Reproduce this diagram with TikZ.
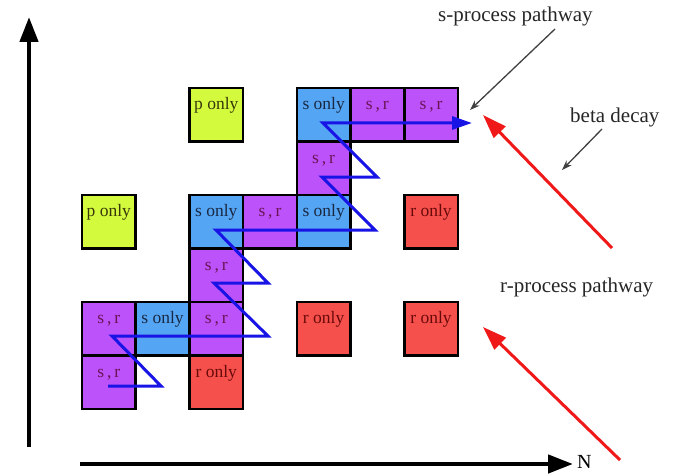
\documentclass[tikz,border=0pt]{standalone}
\usepackage{fontspec}
\setmainfont{Liberation Serif}
\usetikzlibrary{arrows.meta}
\definecolor{cpurple}{RGB}{188,82,250}
\definecolor{cblue}{RGB}{85,165,245}
\definecolor{cyellow}{RGB}{212,250,62}
\definecolor{cred}{RGB}{245,80,75}
\definecolor{tpurple}{RGB}{105,20,85}
\definecolor{tblue}{RGB}{25,40,65}
\definecolor{tyellow}{RGB}{55,55,10}
\definecolor{tred}{RGB}{105,10,10}
\definecolor{zblue}{RGB}{25,20,230}
\definecolor{rred}{RGB}{240,25,25}
\tikzset{
  cellbox/.style={draw=black, line width=2.6pt, minimum width=53.7pt, minimum height=53.5pt, inner sep=0pt, anchor=center},
  celltxt/.style={font=\fontsize{17.5}{20}\selectfont, inner sep=0pt, anchor=base},
  lbl/.style={font=\fontsize{21}{24}\selectfont, inner sep=0pt, text=black!85, anchor=base west},
  axisarrow/.style={line width=4.5pt, -{Triangle[length=25pt,width=18pt]}},
  redarrow/.style={draw=rred, line width=3pt, -{Triangle[length=24pt,width=16pt]}},
  pointer/.style={draw=black!75, line width=1.3pt, -{Stealth[length=10pt,width=7pt]}},
  zig/.style={draw=zblue, line width=3pt, line join=miter, -{Triangle[length=20pt,width=13pt]}},
}
\newcommand{\cellat}[4]{\node[cellbox, fill=#4] (#1) at ({108.85+53.7*#2},{114.75+53.5*#3}) {};}
\newcommand{\celltext}[3]{\node[celltxt, text=#3] (#1t) at ([yshift=-23pt]#1.north) {#2};}
\begin{document}
\begin{tikzpicture}[x=1pt,y=-1pt]
\useasboundingbox (0,0) rectangle (674,476);
% axes
\coordinate (ybot) at (29,447);
\coordinate (ytop) at (29,17);
\coordinate (xleft) at (80,464);
\coordinate (xright) at (573,464);
\draw[axisarrow] (ybot) -- (ytop);
\draw[axisarrow] (xleft) -- (xright);
\node[font=\fontsize{20}{22}\selectfont, inner sep=0pt, anchor=base west] (N) at (577,468) {N};
% cells
\cellat{a2}{2}{0}{cyellow}
\cellat{a4}{4}{0}{cblue}
\cellat{a5}{5}{0}{cpurple}
\cellat{a6}{6}{0}{cpurple}
\cellat{b4}{4}{1}{cpurple}
\cellat{c0}{0}{2}{cyellow}
\cellat{c2}{2}{2}{cblue}
\cellat{c3}{3}{2}{cpurple}
\cellat{c4}{4}{2}{cblue}
\cellat{c6}{6}{2}{cred}
\cellat{d2}{2}{3}{cpurple}
\cellat{e0}{0}{4}{cpurple}
\cellat{e1}{1}{4}{cblue}
\cellat{e2}{2}{4}{cpurple}
\cellat{e4}{4}{4}{cred}
\cellat{e6}{6}{4}{cred}
\cellat{f0}{0}{5}{cpurple}
\cellat{f2}{2}{5}{cred}
% s-process zigzag
\draw[zig] (108,386) -- (161,386) -- (112,336) -- (268,336) -- (214,283)
  -- (268,283) -- (216,230) -- (375,230) -- (322,177) -- (377,177)
  -- (323,123) -- (472,123);
% cell texts
\celltext{a2}{p only}{tyellow}
\celltext{a4}{s only}{tblue}
\celltext{a5}{s\,,\,r}{tpurple}
\celltext{a6}{s\,,\,r}{tpurple}
\celltext{b4}{s\,,\,r}{tpurple}
\celltext{c0}{p only}{tyellow}
\celltext{c2}{s only}{tblue}
\celltext{c3}{s\,,\,r}{tpurple}
\celltext{c4}{s only}{tblue}
\celltext{c6}{r only}{tred}
\celltext{d2}{s\,,\,r}{tpurple}
\celltext{e0}{s\,,\,r}{tpurple}
\celltext{e1}{s only}{tblue}
\celltext{e2}{s\,,\,r}{tpurple}
\celltext{e4}{r only}{tred}
\celltext{e6}{r only}{tred}
\celltext{f0}{s\,,\,r}{tpurple}
\celltext{f2}{r only}{tred}
% labels
\node[lbl] (sp) at (438,22) {s-process pathway};
\node[lbl] (bd) at (570,122) {beta decay};
\node[lbl] (rp) at (500,292) {r-process pathway};
% pointers
\coordinate (sptail) at (555,29);
\coordinate (sphead) at (470,110);
\coordinate (bdtail) at (602,129);
\coordinate (bdhead) at (562,170);
\draw[pointer] (sptail) -- (sphead);
\draw[pointer] (bdtail) -- (bdhead);
% r-process arrows
\coordinate (r1tail) at (612,248);
\coordinate (r1head) at (483,115);
\coordinate (r2tail) at (620,460);
\coordinate (r2head) at (483,327);
\draw[redarrow] (r1tail) -- (r1head);
\draw[redarrow] (r2tail) -- (r2head);
\end{tikzpicture}
\end{document}
